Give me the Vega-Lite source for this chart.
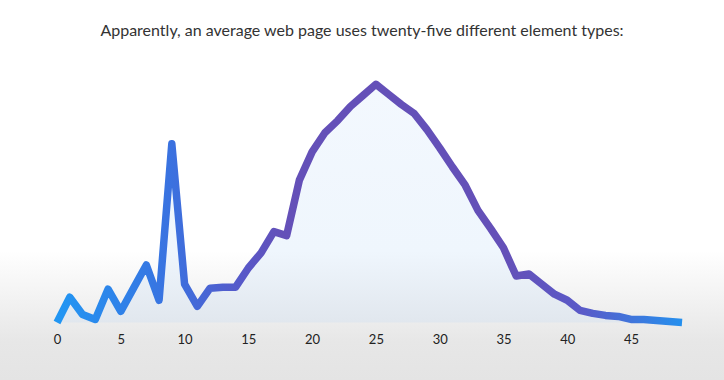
{
  "$schema": "https://vega.github.io/schema/vega-lite/v6.json",
  "width": 724,
  "height": 380,
  "autosize": {"type": "fit", "contains": "padding"},
  "padding": {"top": 23, "bottom": 0, "left": 0, "right": 0},
  "background": "#ffffff",
  "title": {
    "text": "Apparently, an average web page uses twenty-five different element types:",
    "font": "Lato",
    "fontSize": 16,
    "fontWeight": "normal",
    "color": "#333333",
    "anchor": "middle",
    "offset": 17
  },
  "config": {
    "view": {
      "stroke": null,
      "fill": {
        "gradient": "linear",
        "x1": 0, "y1": 0, "x2": 0, "y2": 1,
        "stops": [
          {"offset": 0, "color": "#ffffff"},
          {"offset": 0.6, "color": "#ffffff"},
          {"offset": 0.88, "color": "#e7e7e7"},
          {"offset": 1, "color": "#e4e4e4"}
        ]
      }
    }
  },
  "data": {
    "values": [
      {"n": 0, "v": 0}, {"n": 1, "v": 25}, {"n": 2, "v": 8}, {"n": 3, "v": 3},
      {"n": 4, "v": 33}, {"n": 5, "v": 11}, {"n": 6, "v": 34}, {"n": 7, "v": 57},
      {"n": 8, "v": 22}, {"n": 9, "v": 177}, {"n": 10, "v": 38}, {"n": 11, "v": 16},
      {"n": 12, "v": 34}, {"n": 13, "v": 35}, {"n": 14, "v": 35}, {"n": 15, "v": 54},
      {"n": 16, "v": 69}, {"n": 17, "v": 90}, {"n": 18, "v": 86}, {"n": 19, "v": 141},
      {"n": 20, "v": 169}, {"n": 21, "v": 188}, {"n": 22, "v": 200}, {"n": 23, "v": 214},
      {"n": 24, "v": 225}, {"n": 25, "v": 236}, {"n": 26, "v": 226}, {"n": 27, "v": 216},
      {"n": 28, "v": 207}, {"n": 29, "v": 191}, {"n": 30, "v": 173}, {"n": 31, "v": 154},
      {"n": 32, "v": 136}, {"n": 33, "v": 111}, {"n": 34, "v": 93}, {"n": 35, "v": 74},
      {"n": 36, "v": 46}, {"n": 37, "v": 48}, {"n": 38, "v": 38}, {"n": 39, "v": 28},
      {"n": 40, "v": 22}, {"n": 41, "v": 12}, {"n": 42, "v": 9}, {"n": 43, "v": 7},
      {"n": 44, "v": 6}, {"n": 45, "v": 3}, {"n": 46, "v": 3}, {"n": 47, "v": 2},
      {"n": 48, "v": 1}, {"n": 49, "v": 0}
    ]
  },
  "encoding": {
    "x": {
      "field": "n",
      "type": "quantitative",
      "scale": {"domain": [-4.47, 52.29], "nice": false, "zero": false},
      "axis": {
        "values": [0, 5, 10, 15, 20, 25, 30, 35, 40, 45],
        "domain": false,
        "ticks": false,
        "grid": false,
        "title": null,
        "labelFont": "Lato",
        "labelFontSize": 13,
        "labelColor": "#222222",
        "labelPadding": 0,
        "offset": -47
      }
    },
    "y": {
      "field": "v",
      "type": "quantitative",
      "scale": {"domain": [-57, 264], "nice": false, "zero": false},
      "axis": null
    }
  },
  "layer": [
    {
      "mark": {
        "type": "area",
        "fill": {
          "gradient": "linear",
          "x1": 0, "y1": 0, "x2": 0, "y2": 1,
          "stops": [
            {"offset": 0, "color": "#f3f8fe"},
            {"offset": 0.7, "color": "#eff6fd"},
            {"offset": 1, "color": "#e1e7ee"}
          ]
        }
      },
      "encoding": {"y2": {"datum": 0}}
    },
    {
      "mark": {
        "type": "line",
        "strokeWidth": 7.5,
        "strokeJoin": "round",
        "strokeCap": "butt",
        "stroke": {
          "gradient": "linear",
          "x1": 0, "y1": 0, "x2": 1, "y2": 0,
          "stops": [
            {"offset": 0, "color": "#2196f3"},
            {"offset": 0.18, "color": "#3a72e0"},
            {"offset": 0.3, "color": "#5858c8"},
            {"offset": 0.36, "color": "#6450b8"},
            {"offset": 0.72, "color": "#6450b8"},
            {"offset": 0.84, "color": "#5a5ac8"},
            {"offset": 1, "color": "#2590ee"}
          ]
        }
      }
    }
  ]
}
